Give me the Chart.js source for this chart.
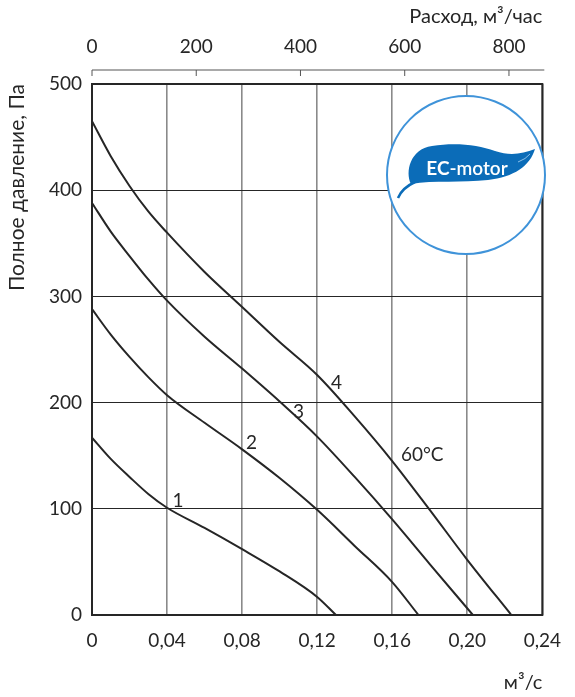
<!DOCTYPE html>
<html>
<head>
<meta charset="utf-8">
<script src="https://cdn.jsdelivr.net/npm/chart.js@4.4.1/dist/chart.umd.min.js"></script>
<style>
  html, body { margin: 0; padding: 0; background: #fff; }
  #wrap { width: 575px; height: 697px; position: relative; }
</style>
</head>
<body>
<div id="wrap"><canvas id="chart"></canvas></div>
<script>
// axis ticks
const flowTicks = [0, 0.04, 0.08, 0.12, 0.16, 0.2, 0.24];   // м³/с
const hourTicks = [0, 200, 400, 600, 800];                   // м³/час
const pressureTicks = [0, 100, 200, 300, 400, 500];          // Па

// curves: flow (м³/с) / pressure (Па)
const flow1 = [0, 0.01, 0.02, 0.03, 0.04, 0.06, 0.08, 0.10, 0.12, 0.130];
const pressure1 = [167, 147, 130, 114, 101, 82, 62, 41, 17, 0];

const flow2 = [0, 0.01, 0.02, 0.03, 0.04, 0.06, 0.08, 0.10, 0.12, 0.14, 0.16, 0.174];
const pressure2 = [288, 264, 243, 224, 207, 181, 156, 129, 99, 65, 31, 0];

const flow3 = [0, 0.01, 0.02, 0.03, 0.04, 0.06, 0.08, 0.10, 0.12, 0.14, 0.16, 0.18, 0.203];
const pressure3 = [388, 361, 338, 316, 296, 262, 232, 201, 168, 130, 90, 48, 0];

const flow4 = [0, 0.01, 0.02, 0.03, 0.04, 0.06, 0.08, 0.10, 0.12, 0.14, 0.16, 0.18, 0.20, 0.2235];
const pressure4 = [465, 432, 404, 380, 360, 323, 290, 257, 226, 187, 145, 99, 52, 0];

const curveNames = ['1', '2', '3', '4'];
const tempLabel = '60°C';

const ink = '#262626';
const fontStack = 'Lato, "Open Sans", sans-serif';
Chart.defaults.font.family = fontStack;
Chart.defaults.font.size = 19;
Chart.defaults.color = ink;

const toPoints = (xs, ys) => xs.map((x, i) => ({ x, y: ys[i] }));

const series = [
  toPoints(flow1, pressure1),
  toPoints(flow2, pressure2),
  toPoints(flow3, pressure3),
  toPoints(flow4, pressure4),
];

const fixTicks = (list) => (scale) => {
  scale.ticks = list.map((value) => ({ value }));
};

// curve numbers and temperature note, anchored in data units
const notes = [
  { text: curveNames[0], x: 0.0459, y: 107 },
  { text: curveNames[1], x: 0.085, y: 162 },
  { text: curveNames[2], x: 0.110, y: 191 },
  { text: curveNames[3], x: 0.1303, y: 219 },
  { text: tempLabel, x: 0.176, y: 151 },
];

function drawLogo(ctx) {
  const cx = 466, cy = 175, r = 79;
  const blue = '#0b6cb8';
  ctx.save();
  ctx.beginPath();
  ctx.arc(cx, cy, r, 0, Math.PI * 2);
  ctx.fillStyle = '#fff';
  ctx.fill();
  ctx.lineWidth = 2;
  ctx.strokeStyle = '#3f93d9';
  ctx.stroke();

  // leaf
  ctx.beginPath();
  ctx.moveTo(411, 184);
  ctx.bezierCurveTo(405, 172, 410, 149, 432, 146);
  ctx.bezierCurveTo(456, 142, 478, 145, 495, 151);
  ctx.bezierCurveTo(510, 156, 522, 154, 535, 149);
  ctx.bezierCurveTo(530, 166, 514, 177, 488, 180);
  ctx.bezierCurveTo(462, 183, 434, 180, 411, 184);
  ctx.closePath();
  ctx.fillStyle = blue;
  ctx.fill();

  // stem
  ctx.beginPath();
  ctx.moveTo(415, 182);
  ctx.quadraticCurveTo(402, 188, 398, 198);
  ctx.lineWidth = 2.5;
  ctx.strokeStyle = blue;
  ctx.stroke();

  // highlight near the tip
  ctx.beginPath();
  ctx.moveTo(518, 162);
  ctx.quadraticCurveTo(526, 159, 530, 154);
  ctx.lineWidth = 1;
  ctx.strokeStyle = '#8cc0ea';
  ctx.stroke();

  ctx.fillStyle = '#fff';
  ctx.textBaseline = 'alphabetic';
  const ec = 'EC';
  const rest = '-motor';
  ctx.font = `bold 19px ${fontStack}`;
  const ecW = ctx.measureText(ec).width;
  ctx.font = `600 19px ${fontStack}`;
  const restW = ctx.measureText(rest).width;
  const x0 = 467 - (ecW + restW) / 2;
  ctx.font = `bold 19px ${fontStack}`;
  ctx.fillText(ec, x0, 175);
  ctx.font = `600 19px ${fontStack}`;
  ctx.fillText(rest, x0 + ecW, 175);
  ctx.restore();
}

const decorations = {
  id: 'decorations',
  afterDatasetsDraw(chart) {
    const { ctx, chartArea: a, scales } = chart;
    ctx.save();

    // plot frame
    ctx.lineWidth = 2;
    ctx.strokeStyle = ink;
    ctx.strokeRect(a.left, a.top, a.right - a.left, a.bottom - a.top);

    // detached top axis line with its ticks
    const lineY = a.top - 14;
    ctx.lineWidth = 1;
    ctx.strokeStyle = '#555';
    ctx.beginPath();
    ctx.moveTo(a.left, lineY);
    ctx.lineTo(a.right + 2, lineY);
    scales.x2.ticks.forEach((t) => {
      const px = scales.x2.getPixelForValue(t.value);
      ctx.moveTo(px, lineY);
      ctx.lineTo(px, lineY + 6);
    });
    ctx.stroke();

    // curve notes
    ctx.fillStyle = ink;
    ctx.font = `19px ${fontStack}`;
    ctx.textAlign = 'center';
    ctx.textBaseline = 'middle';
    notes.forEach((n) => {
      ctx.fillText(n.text, scales.x.getPixelForValue(n.x), scales.y.getPixelForValue(n.y));
    });
    ctx.restore();

    drawLogo(ctx);
  },
};

new Chart(document.getElementById('chart'), {
  type: 'line',
  data: {
    datasets: series.map((data, i) => ({
      label: curveNames[i],
      data,
      xAxisID: 'x',
      yAxisID: 'y',
      borderColor: ink,
      borderWidth: 2,
      pointRadius: 0,
      cubicInterpolationMode: 'monotone',
      fill: false,
    })),
  },
  options: {
    responsive: true,
    maintainAspectRatio: false,
    animation: false,
    layout: { padding: { left: 0, right: 23, top: 0, bottom: 0 } },
    plugins: {
      legend: { display: false },
      tooltip: { enabled: false },
    },
    scales: {
      x: {
        type: 'linear',
        position: 'bottom',
        min: 0,
        max: 0.24,
        afterBuildTicks: fixTicks(flowTicks),
        afterFit(scale) {
          scale.height = 82;
        },
        ticks: {
          padding: 14,
          autoSkip: false,
          maxRotation: 0,
          callback: (v) => (v === 0 ? '0' : v.toFixed(2).replace('.', ',')),
        },
        grid: { color: '#8a8a8a', lineWidth: 1.6, drawTicks: false },
        border: { display: false },
        title: {
          display: true,
          text: 'м³/с',
          align: 'end',
          font: { size: 20 },
          padding: { top: 0, bottom: 2 },
        },
      },
      x2: {
        type: 'linear',
        position: 'top',
        min: 0,
        max: 864,
        afterBuildTicks: fixTicks(hourTicks),
        afterFit(scale) {
          scale.height = 84;
        },
        ticks: { padding: 26, autoSkip: false, maxRotation: 0 },
        grid: { display: false, drawTicks: false },
        border: { display: false },
        title: {
          display: true,
          text: 'Расход, м³/час',
          align: 'end',
          font: { size: 20 },
          padding: { top: 5, bottom: 0 },
        },
      },
      y: {
        type: 'linear',
        position: 'left',
        min: 0,
        max: 500,
        afterBuildTicks: fixTicks(pressureTicks),
        afterFit(scale) {
          scale.width = 92;
        },
        ticks: { padding: 10 },
        grid: { color: ink, lineWidth: 1, drawTicks: false },
        border: { display: false },
        title: {
          display: true,
          text: 'Полное давление, Па',
          align: 'end',
          font: { size: 21 },
          padding: { top: 5, bottom: 0 },
        },
      },
    },
  },
  plugins: [decorations],
});
</script>
</body>
</html>
